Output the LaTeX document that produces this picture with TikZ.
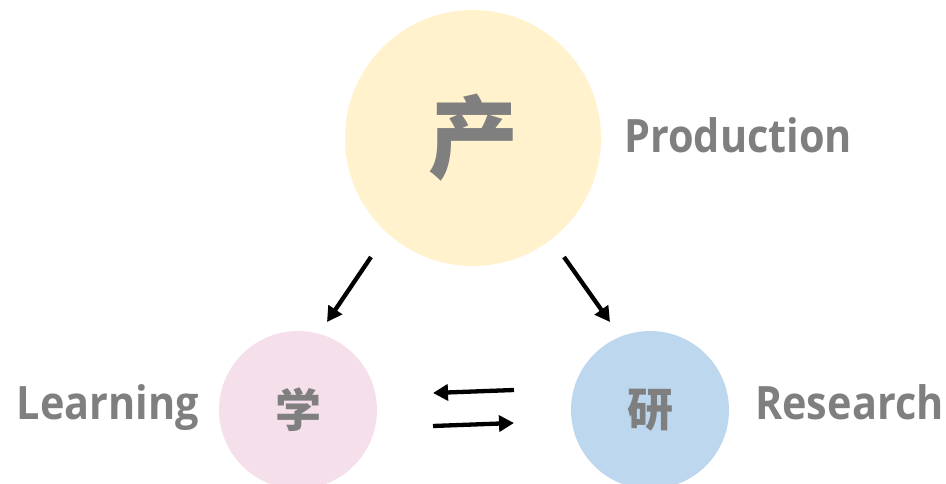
\documentclass[tikz,border=0pt]{standalone}
\usepackage{fontspec}
\setmainfont{Open Sans}[FakeStretch=0.9]
\newfontfamily\cjk{Noto Sans CJK SC}
\usetikzlibrary{arrows.meta}
\definecolor{prodfill}{HTML}{FFF2CC}
\definecolor{learnfill}{HTML}{F5DFEB}
\definecolor{resfill}{HTML}{BDD7EE}
\definecolor{labelgray}{HTML}{7F7F7F}
\tikzset{
  ball/.style={circle, inner sep=0pt, text=labelgray},
  caption/.style={text=labelgray, font=\fontsize{46}{50}\selectfont\bfseries, inner sep=0pt},
  flow/.style={line width=4.3pt, -{Triangle[length=15pt,width=16pt]}}
}
\begin{document}
\begin{tikzpicture}[x=1pt,y=-1pt]
\useasboundingbox (0,0) rectangle (946,484);
% the three circles
\node[ball, fill=prodfill, minimum size=256pt, font=\cjk\bfseries\fontsize{90}{90}\selectfont] (prod) at (473,138) {产};
\node[ball, fill=learnfill, minimum size=158pt, font=\cjk\bfseries\fontsize{46}{46}\selectfont] (learn) at (298,410) {学};
\node[ball, fill=resfill, minimum size=158pt, font=\cjk\bfseries\fontsize{46}{46}\selectfont] (res) at (650,410) {研};
% English captions
\node[caption, anchor=base west] (prodlab) at (624,153) {Production};
\node[caption, anchor=base east] (learnlab) at (199,419) {Learning};
\node[caption, anchor=base west] (reslab) at (755,419) {Research};
% arrow end points
\coordinate (pl1) at (371,257);
\coordinate (pl2) at (327,322);
\coordinate (pr1) at (564,257);
\coordinate (pr2) at (610,322);
\coordinate (rl1) at (514,390);
\coordinate (rl2) at (433,393);
\coordinate (lr1) at (433,426);
\coordinate (lr2) at (514,423);
\draw[flow] (pl1) -- (pl2);
\draw[flow] (pr1) -- (pr2);
\draw[flow] (rl1) -- (rl2);
\draw[flow] (lr1) -- (lr2);
\end{tikzpicture}
\end{document}
